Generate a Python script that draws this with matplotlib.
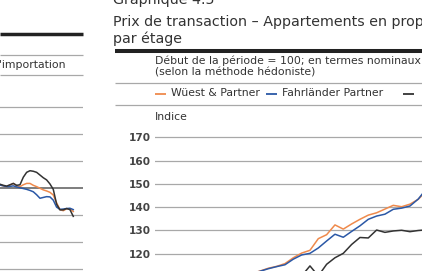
import matplotlib
matplotlib.use("Agg")
import matplotlib.pyplot as plt
from matplotlib.lines import Line2D

W, H = 422, 271

# right chart: transaction prices, flats by floor (index, start of period = 100)
q_main = list(range(12, 34))
wuest = [111.5, 112.6, 113.8, 114.6, 115.8, 118.3, 120.3, 121.5, 126.5, 128.2, 132.4,
         130.6, 132.8, 134.8, 136.6, 137.6, 139.2, 140.8, 140.2, 141.3, 143.4, 147.0]
fahrlaender = [111.5, 112.5, 113.6, 114.5, 115.3, 117.7, 119.5, 120.2, 122.5, 125.5, 128.4,
               127.1, 129.6, 132.0, 134.8, 136.2, 137.0, 139.1, 139.6, 140.5, 143.5, 148.0]
q_third = list(range(18, 34))
third = [110.5, 114.8, 110.5, 115.5, 118.3, 120.2, 124.0, 127.0, 126.8, 130.2, 129.2,
         129.8, 130.1, 129.5, 130.0, 130.3]
right_ticks = [120, 130, 140, 150, 160, 170]

# left chart (cut off): last part of an import price chart
left_x = list(range(0, 23))
left_black = [101.4, 101.0, 100.7, 101.2, 101.7, 101.0, 101.2, 104.0, 105.8, 106.4, 106.2, 105.8,
              104.8, 103.8, 103.0, 101.5, 99.5, 94.0, 91.9, 91.9, 92.4, 92.0, 89.5]
left_orange = [101.1, 100.8, 100.5, 101.1, 101.7, 100.8, 100.5, 101.2, 101.7, 101.7, 101.0, 100.5,
               99.9, 99.3, 98.9, 98.4, 97.4, 94.5, 92.0, 91.6, 92.3, 92.3, 91.3]
left_blue = [101.1, 100.8, 100.5, 100.6, 100.8, 100.4, 100.1, 99.8, 99.5, 99.1, 98.6, 97.5,
             96.2, 96.5, 96.8, 96.7, 95.5, 92.9, 92.1, 92.2, 92.4, 92.5, 92.0]
left_grid = [70, 80, 90, 110, 120, 130]

ORANGE = "#ef8a4c"
BLUE = "#2b58a6"
BLACK = "#333333"
GRID = "#a8a8a8"
TXT = "#333333"
SMALL = 7.8
BIG = 10.3


def fx(x):
    return x / W


def fy(y):
    return 1 - y / H


def hrule(fig, x0, x1, y, lw, color):
    fig.add_artist(Line2D([fx(x0), fx(x1)], [fy(y), fy(y)], lw=lw, color=color,
                          solid_capstyle="butt", transform=fig.transFigure))


plt.rcParams['font.family'] = ['DejaVu Sans']
fig = plt.figure(figsize=(W / 100, H / 100), dpi=100)

# ---- left chart ----
# value v sits at y = 188 - (v-100)*2.7 px; x index step 3.33 px
axl = fig.add_axes([0, fy(188 + 35 * 2.7), fx(83), 70 * 2.7 / H])
axl.set_xlim(0, 83 / 3.33)
axl.set_ylim(65, 135)
for v in left_grid:
    axl.axhline(v, color=GRID, lw=0.9, zorder=1)
axl.axhline(100, color="#5a5a5a", lw=1.1, zorder=1)
axl.plot(left_x, left_orange, color=ORANGE, lw=1.1, zorder=3)
axl.plot(left_x, left_blue, color=BLUE, lw=1.1, zorder=3)
axl.plot(left_x, left_black, color=BLACK, lw=1.1, zorder=4)
axl.axis("off")

hrule(fig, 0, 83, 34, 2.5, "#222222")
hrule(fig, 0, 83, 55, 0.9, GRID)
hrule(fig, 0, 83, 75, 0.9, GRID)
fig.text(fx(65.7), fy(67.5), "l'importation", ha="right", va="baseline",
         fontsize=SMALL, color=TXT)

# ---- right chart ----
fig.text(fx(113), fy(4), "Graphique 4.5", ha="left", va="baseline", fontsize=BIG, color=TXT)
fig.text(fx(113), fy(26), "Prix de transaction \u2013 Appartements en propri\u00e9t\u00e9",
         ha="left", va="baseline", fontsize=BIG, color=TXT)
fig.text(fx(113), fy(42.5), "par \u00e9tage", ha="left", va="baseline", fontsize=BIG, color=TXT)
hrule(fig, 115, W, 51.3, 2.9, "#222222")
fig.text(fx(155), fy(64.5), "D\u00e9but de la p\u00e9riode = 100; en termes nominaux",
         ha="left", va="baseline", fontsize=SMALL, color=TXT)
fig.text(fx(155), fy(75.5), "(selon la m\u00e9thode h\u00e9doniste)",
         ha="left", va="baseline", fontsize=SMALL, color=TXT)
hrule(fig, 115, W, 83.5, 0.9, GRID)

legend_items = [(155, ORANGE, "W\u00fcest & Partner"),
                (266, BLUE, "Fahrl\u00e4nder Partner"),
                (403, BLACK, None)]
for x0, col, lab in legend_items:
    hrule(fig, x0, x0 + 11, 93.5, 1.3, col)
    if lab:
        fig.text(fx(x0 + 16), fy(93.5), lab, ha="left", va="center", fontsize=SMALL, color=TXT)
hrule(fig, 115, W, 104.5, 0.9, GRID)
fig.text(fx(155), fy(120), "Indice", ha="left", va="baseline", fontsize=SMALL, color=TXT)

# value v at y = 137.3 - (v-170)*2.33 px ; quarter q at x = 151.7 + 8.33 q px
y_top = 137.3 - 5 * 2.33
y_bot = 137.3 + 70 * 2.33
axr = fig.add_axes([fx(154.5), fy(y_bot), fx(430 - 154.5), (y_bot - y_top) / H])
axr.set_xlim((154.5 - 151.7) / 8.33, (430 - 151.7) / 8.33)
axr.set_ylim(100, 175)
for v in [100, 110] + right_ticks:
    axr.axhline(v, color=GRID, lw=0.9, zorder=1)
axr.plot(q_third, third, color=BLACK, lw=1.1, zorder=3)
axr.plot(q_main, wuest, color=ORANGE, lw=1.1, zorder=3)
axr.plot(q_main, fahrlaender, color=BLUE, lw=1.1, zorder=4)
axr.set_yticks(right_ticks)
axr.set_yticklabels([str(v) for v in right_ticks], fontsize=7.6, fontweight="bold", color="#444444")
axr.tick_params(axis="y", length=0, pad=2.8)
axr.set_xticks([])
for s in axr.spines.values():
    s.set_visible(False)
axr.patch.set_alpha(0)

fig.savefig("out.png", dpi=100)
